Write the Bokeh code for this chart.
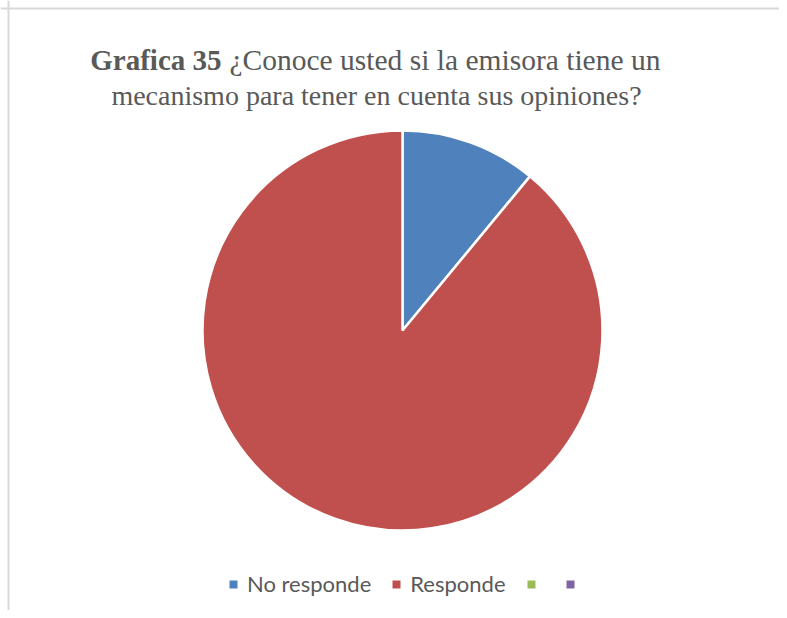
import math
from bokeh.plotting import figure
from bokeh.models import Range1d, Legend, LegendItem, ColumnDataSource, Span
from bokeh.core.properties import value
from bokeh.embed import file_html
from bokeh.resources import INLINE

categories = ["No responde", "Responde", "", ""]
values = [11, 89, 0, 0]
colors = ["#4F81BD", "#C0504D", "#9BBB59", "#8064A2"]
title_bold = "Grafica 35"
title_rest = "¿Conoce usted si la emisora tiene un"
title_line2 = "mecanismo para tener en cuenta sus opiniones?"

W, H = 779, 610
total = sum(values)
starts, ends = [], []
acc = 0.0
for v in values:
    a0 = math.pi / 2 - 2 * math.pi * acc / total
    acc += v
    a1 = math.pi / 2 - 2 * math.pi * acc / total
    starts.append(a0)
    ends.append(a1)

keep = [i for i, v in enumerate(values) if v > 0]
pie_src = ColumnDataSource(dict(cat=[categories[i] for i in keep],
                                start=[starts[i] for i in keep],
                                end=[ends[i] for i in keep],
                                color=[colors[i] for i in keep]))

p = figure(width=W, height=H, output_backend="svg", toolbar_location=None,
           x_range=Range1d(0, W), y_range=Range1d(0, H), min_border=0)
p.axis.visible = False
p.grid.visible = False
p.outline_line_color = None
p.background_fill_color = "white"
p.border_fill_color = "white"

p.wedge(x=402, y=280, radius=200, radius_units="screen",
        start_angle="start", end_angle="end", direction="clock",
        fill_color="color", line_color="white", line_width=2.5, source=pie_src)

# legend proxies (not drawn on the plot)
leg_src = ColumnDataSource(dict(x=[float("nan")] * len(categories),
                                y=[float("nan")] * len(categories),
                                color=colors))
lr = p.scatter(x="x", y="y", marker="square", size=8, fill_color="color",
               line_color=None, source=leg_src)

serif = value("'Liberation Serif', 'Times New Roman', serif")
p.text(x=[221], y=[551], text=[title_bold], text_align="right", text_baseline="middle",
       text_font=serif, text_font_style="bold",
       text_font_size="29px", text_color="#595959")
p.text(x=[229], y=[551], text=[title_rest], text_align="left", text_baseline="middle",
       text_font=serif, text_font_size="29.5px", text_color="#595959")
p.text(x=[376], y=[515], text=[title_line2], text_align="center", text_baseline="middle",
       text_font=serif, text_font_size="28px", text_color="#595959")

items = [LegendItem(label=categories[i], renderers=[lr], index=i) for i in range(len(categories))]
legend = Legend(items=items, orientation="horizontal", location=(223, 13),
                label_text_font="Lato", label_text_font_size="22px", label_text_color="#595959",
                glyph_width=20, glyph_height=20, label_standoff=4, spacing=15,
                label_width=0, padding=0, margin=0,
                border_line_color=None, background_fill_alpha=0)
p.add_layout(legend, "center")

p.add_layout(Span(location=602, dimension="width", line_color="#d9d9d9", line_width=2))
p.add_layout(Span(location=8, dimension="height", line_color="#d9d9d9", line_width=2))

open("out.html", "w").write(file_html(p, INLINE))
